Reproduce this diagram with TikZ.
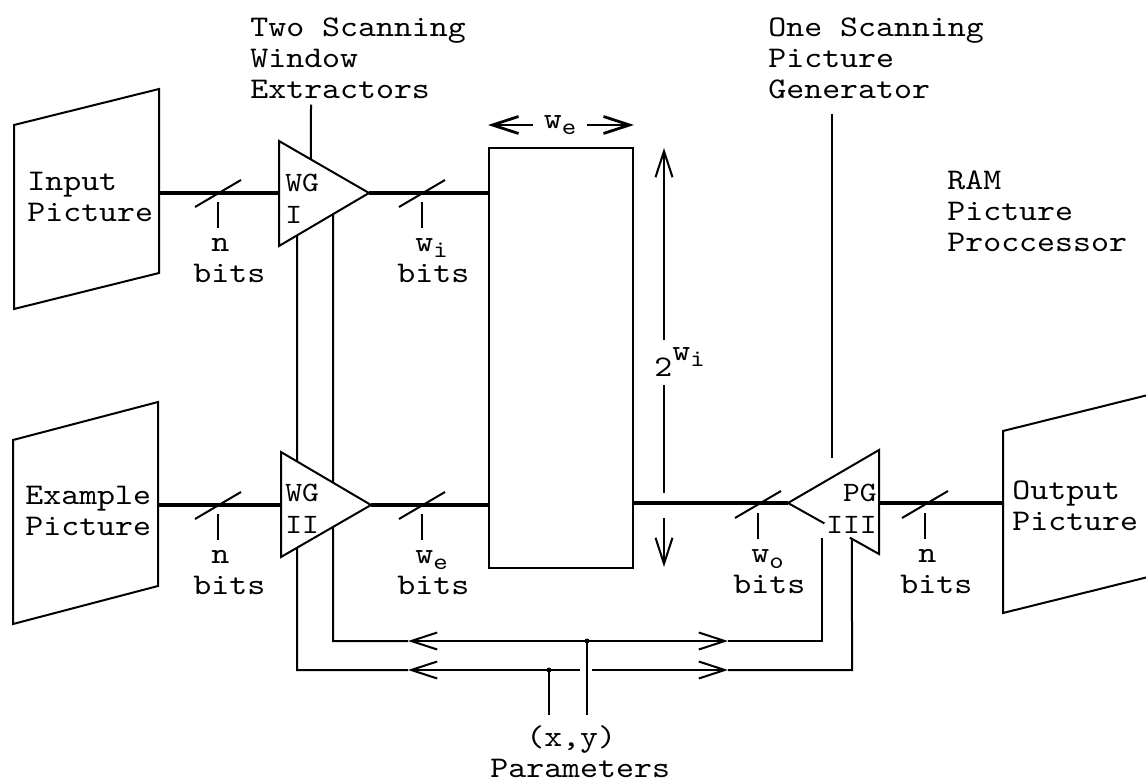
\documentclass[tikz,border=0pt]{standalone}
\usepackage{fontspec}
\newfontfamily\tw[FakeStretch=1.14]{lmmono10-regular.otf}
\usetikzlibrary{arrows.meta, calc, positioning}
\newcommand\lowidx[1]{\raisebox{-3pt}{\fontsize{12}{12}\selectfont #1}}

\begin{document}
\begin{tikzpicture}[x=0.5pt, y=-0.5pt,
    wire/.style={line width=1pt},
    sig/.style={line width=2pt},
    barb/.style={-{Straight Barb[length=13pt,width=8.5pt]}},
    txt/.style={font=\tw\fontsize{15}{15.5}\selectfont, inner sep=0pt, align=left, anchor=base west},
    blk/.style={font=\tw\fontsize{14}{16}\selectfont, inner sep=0pt, align=left, anchor=base west}]
    \useasboundingbox[fill=white] (0,0) rectangle (1146,781);

    % pictures
    \draw[wire] (14,125) -- (159,89) -- (159,273) -- (14,309) -- cycle;
    \draw[wire] (13,440) -- (158,402) -- (158,586) -- (13,624) -- cycle;
    \draw[wire] (1003,431) -- (1148,395) -- (1148,577) -- (1003,613) -- cycle;
    \node[txt] (inp) at (27,221) {Input\\Picture};
    \node[txt] (exa) at (25,535) {Example\\Picture};
    \node[txt] (outp) at (1012,530) {Output\\Picture};
    \coordinate (inpR) at (159,193);
    \coordinate (exaR) at (158,505);
    \coordinate (outL) at (1003,503);

    % window extractors and picture generator
    \coordinate (wg1t) at (279,141);
    \coordinate (wg1b) at (279,246);
    \coordinate (wg1o) at (369,193);
    \coordinate (wg2t) at (281,452);
    \coordinate (wg2b) at (281,557);
    \coordinate (wg2o) at (371,505);
    \coordinate (pgt) at (879,450);
    \coordinate (pgb) at (879,554);
    \coordinate (pgo) at (788,503);
    \draw[wire] (wg1t) -- (wg1o) -- (wg1b) -- cycle;
    \coordinate (k1) at ($(wg1o)!0.8!(wg1b)$);
    \coordinate (k2) at ($(wg1o)!0.4!(wg1b)$);

    % memory
    \node[draw, wire, minimum width=72pt, minimum height=210pt, inner sep=0pt] (ram) at (561,358) {};

    % parameter buses
    \coordinate (pu) at (587,641);
    \coordinate (pl) at (549,670);
    \node[txt] (par) at (490,777) {\ \ (x,y)\\Parameters};
    \draw[wire, barb] (pu) -- (408,641) coordinate (ual);
    \draw[wire] (ual) -- (333,641) -- (k2);
    \draw[wire, barb] (pu) -- (728,641) coordinate (uar);
    \draw[wire] (uar) -- (822,641) -- (822,538);
    \draw[wire, barb] (pl) -- (408,670) coordinate (lal);
    \draw[wire] (lal) -- (297,670) -- (k1);
    \draw[wire] (pl) -- (580,670);
    \draw[wire, barb] (592,670) -- (728,670) coordinate (lar);
    \draw[wire] (lar) -- (852,670) -- ($(pgo)!0.703!(pgb)$);
    \draw[wire] (pu) -- ($(pu |- par.north)+(0,-10)$);
    \draw[wire] (pl) -- ($(pl |- par.north)+(0,-10)$);
    \fill (pu) circle (2.5);
    \fill (pl) circle (2.5);

    \draw[wire, fill=white] (wg2t) -- (wg2o) -- (wg2b) -- cycle;
    \draw[wire] ($(pgo)!0.4!(pgb)$) -- (pgo) -- (pgt) -- (pgb) -- ($(pgo)!0.68!(pgb)$);
    \node[blk] (wg1txt) at (285,223) {WG\\I};
    \node[blk] (wg2txt) at (285,533) {WG\\II};
    \node[blk, align=right, anchor=base east] (pgtxt) at (877,533) {PG\\III};

    % data paths
    \draw[sig] (inpR) -- (wg1o -| wg1t);
    \draw[sig] (wg1o) -- (wg1o -| ram.west);
    \draw[sig] (exaR) -- (wg2o -| wg2t);
    \draw[sig] (wg2o) -- (wg2o -| ram.west);
    \draw[sig] (ram.east |- pgo) -- (pgo);
    \draw[sig] (pgo -| pgt) -- (outL);
    \foreach \bx/\by/\bt [count=\i] in {218/193/n, 422/193/{w\lowidx{i}}, 218/505/n,
        422/505/{w\lowidx{e}}, 758/504/{w\lowidx{o}}, 925/504/n}{
      \draw[wire] (\bx-23,\by+14) -- (\bx+23,\by-13);
      \draw[wire] (\bx,\by+9) -- (\bx,\by+35);
      \node[txt] (bits\i) at (\bx-25,\by+89) {~\bt\\bits};
    }

    % memory size
    \node[font=\tw\fontsize{15}{15}\selectfont, inner sep=5pt] (we) at (560,125) {w\lowidx{e}};
    \draw[line width=1.4pt, barb] (we.west) -- (we.west -| ram.west);
    \draw[line width=1.4pt, barb] (we.east) -- (we.east -| ram.east);
    \coordinate (dtop) at (664,148);
    \coordinate (dbot) at (664,567);
    \node[txt] (dim) at (654,376) {2\raisebox{8pt}{w\lowidx{i}}};
    \draw[wire, barb] ($(dim.north -| dtop)+(0,-7)$) -- (dtop);
    \draw[wire] ($(dim.south -| dbot)+(0,9)$) -- (664,493);
    \draw[wire, barb] (664,518) -- (dbot);

    % labels
    \node[txt] (wgl) at (250,98) {Two Scanning\\Window\\Extractors};
    \node[txt] (pgl) at (768,98) {One Scanning\\Picture\\Generator};
    \node[txt] (rpp) at (947,251) {RAM\\Picture\\Proccessor};
    \coordinate (pgk) at (832,458);
    \draw[wire] ($(wgl.south -| k2)+(-22,6)$) -- ($(wg1t)!0.355!(wg1o)$);
    \draw[wire] ($(pgl.south -| pgk)+(0,15)$) -- (pgk);
\end{tikzpicture}
\end{document}
